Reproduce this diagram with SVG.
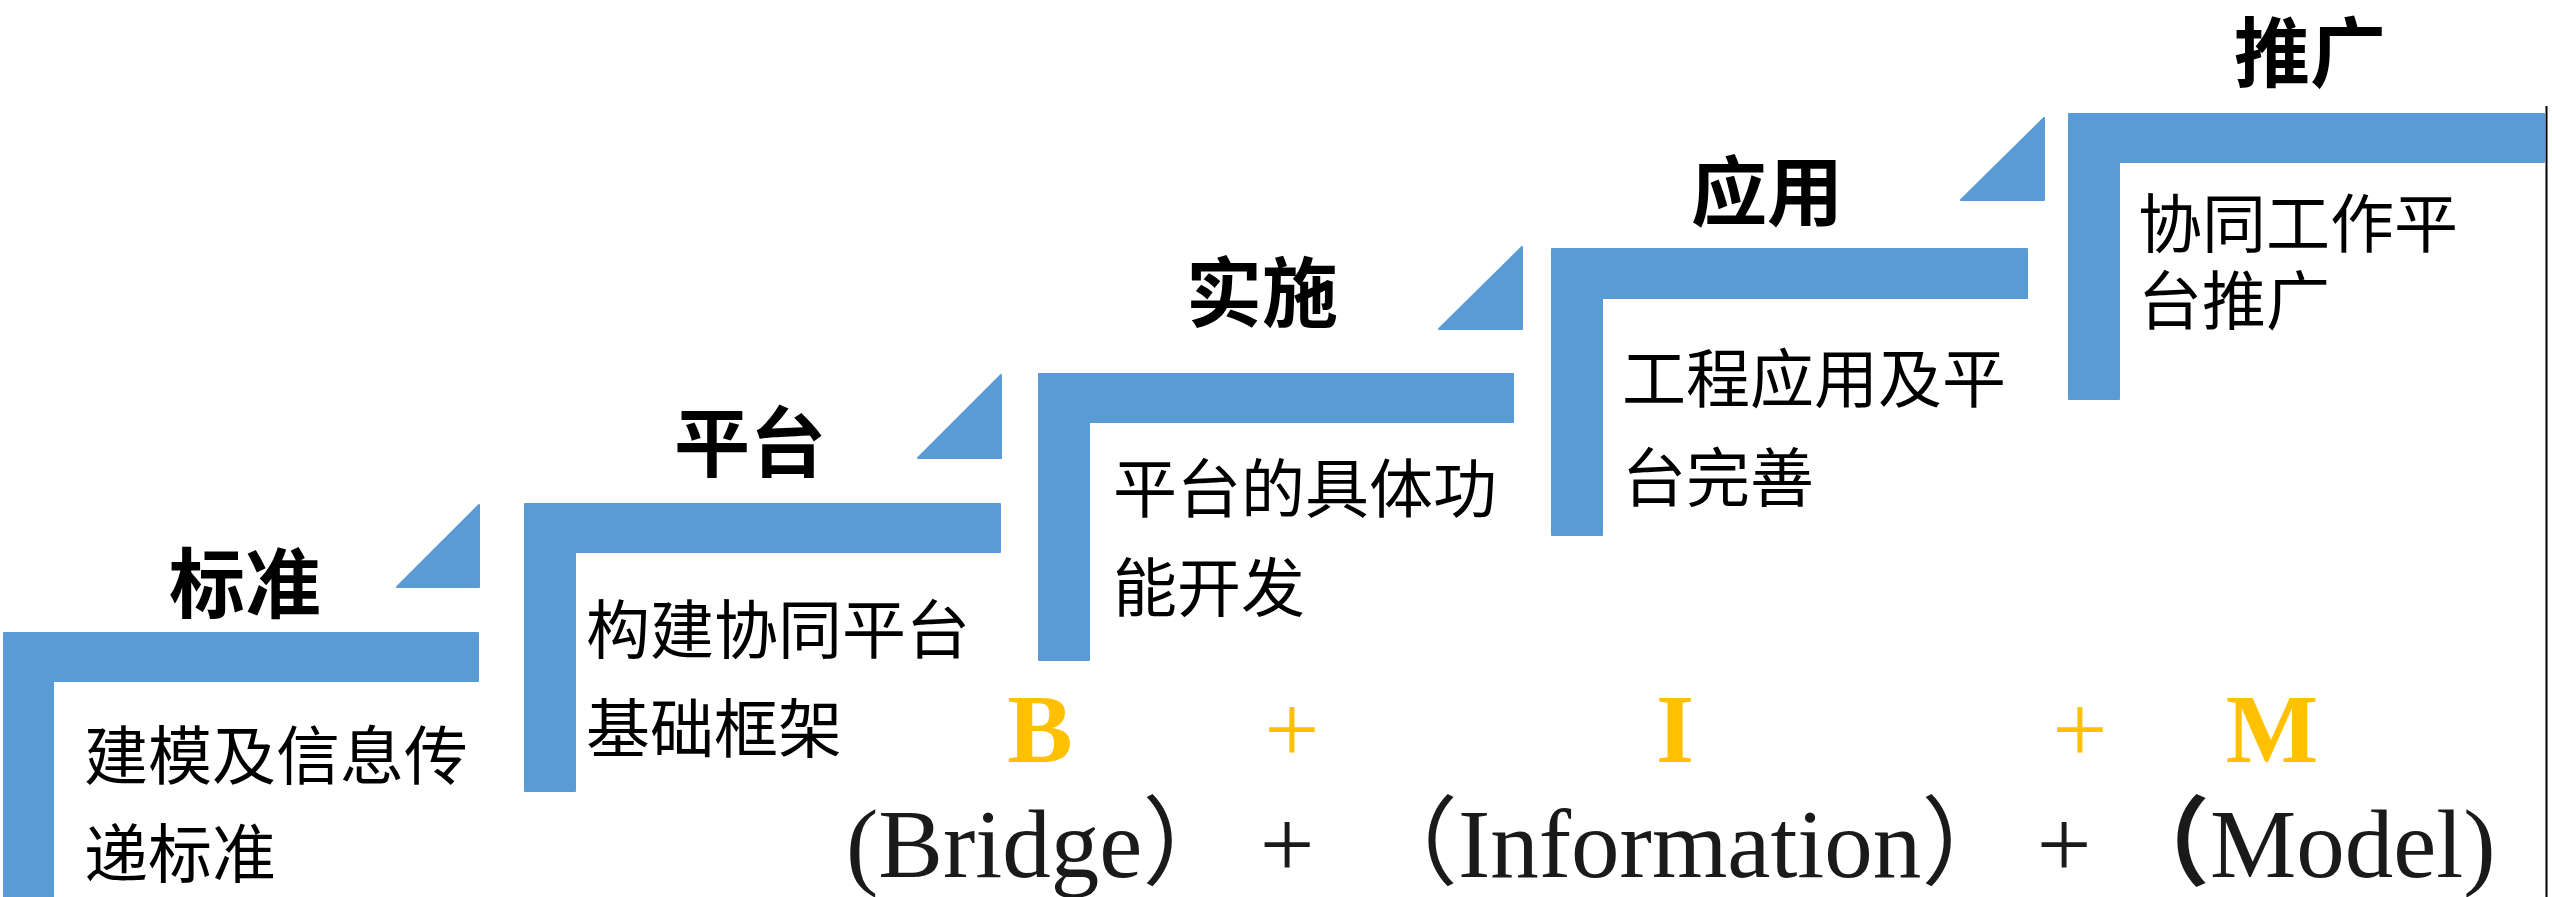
<svg xmlns="http://www.w3.org/2000/svg" width="2552" height="897" viewBox="0 0 2552 897">
<style>
.step{fill:#5B9BD5;stroke:#5B9BD5;stroke-width:2;stroke-linejoin:round}
.title{font-family:"Noto Sans CJK SC","Noto Sans",sans-serif;font-weight:700;font-size:76px;fill:#000;text-anchor:middle}
.body{font-family:"Noto Sans CJK SC","Noto Sans",sans-serif;font-size:64px;fill:#000}
.yb{font-family:"Liberation Serif","Noto Sans CJK SC",serif;font-size:98px;font-weight:700;fill:#FFC000;text-anchor:middle}
.yp{font-family:"Liberation Serif","Noto Sans CJK SC",serif;font-size:98px;fill:#FFC000;text-anchor:middle}
.bt{font-family:"Liberation Serif","Noto Sans CJK SC",serif;font-size:97px;fill:#1a1a1a}
</style>
<rect width="2552" height="897" fill="#fff"/>
<g id="step1">
<path class="step" d="M4 633 H478 V681 H53 V900 H4 Z"/>
<path class="step" d="M397 587 L479 505 V587 Z"/>
<text class="title" x="245" y="612">标准</text>
<text class="body" x="84" y="779">建模及信息传</text>
<text class="body" x="84" y="877">递标准</text>
</g>
<g id="step2">
<path class="step" d="M525 504 H1000 V552 H575 V791 H525 Z"/>
<path class="step" d="M918 458 L1001 375 V458 Z"/>
<text class="title" x="750" y="471">平台</text>
<text class="body" x="586" y="653">构建协同平台</text>
<text class="body" x="586" y="752">基础框架</text>
</g>
<g id="step3">
<path class="step" d="M1039 374 H1513 V422 H1089 V660 H1039 Z"/>
<path class="step" d="M1439 329 L1522 247 V329 Z"/>
<text class="title" x="1262" y="321">实施</text>
<text class="body" x="1113" y="512">平台的具体功</text>
<text class="body" x="1113" y="611">能开发</text>
</g>
<g id="step4">
<path class="step" d="M1552 249 H2027 V298 H1602 V535 H1552 Z"/>
<path class="step" d="M1961 200 L2044 118 V200 Z"/>
<text class="title" x="1767" y="220">应用</text>
<text class="body" x="1622" y="402">工程应用及平</text>
<text class="body" x="1622" y="501">台完善</text>
</g>
<g id="step5">
<path class="step" d="M2069 114 H2544 V162 H2119 V399 H2069 Z"/>
<text class="title" x="2310" y="81">推广</text>
<text class="body" x="2138" y="247">协同工作平</text>
<text class="body" x="2138" y="324">台推广</text>
</g>
<g id="edge">
<line x1="2546.5" y1="106" x2="2546.5" y2="897" stroke="#000" stroke-width="2"/>
</g>
<g id="bim">
<text class="yb" x="1040" y="762">B</text>
<text class="yp" x="1292" y="762">+</text>
<text class="yb" x="1675" y="762">I</text>
<text class="yp" x="2080" y="762">+</text>
<text class="yb" x="2272" y="762">M</text>
<text class="bt" x="846" y="877">(Bridge）</text>
<text class="bt" x="1287" y="877" text-anchor="middle">+</text>
<text class="bt" x="1458" y="877" text-anchor="end">（</text>
<text class="bt" x="1458" y="877">Information）</text>
<text class="bt" x="2064" y="877" text-anchor="middle">+</text>
<text class="bt" x="2210" y="877" text-anchor="end" font-weight="700">（</text>
<text class="bt" x="2210" y="877">Model)</text>
</g>
</svg>
